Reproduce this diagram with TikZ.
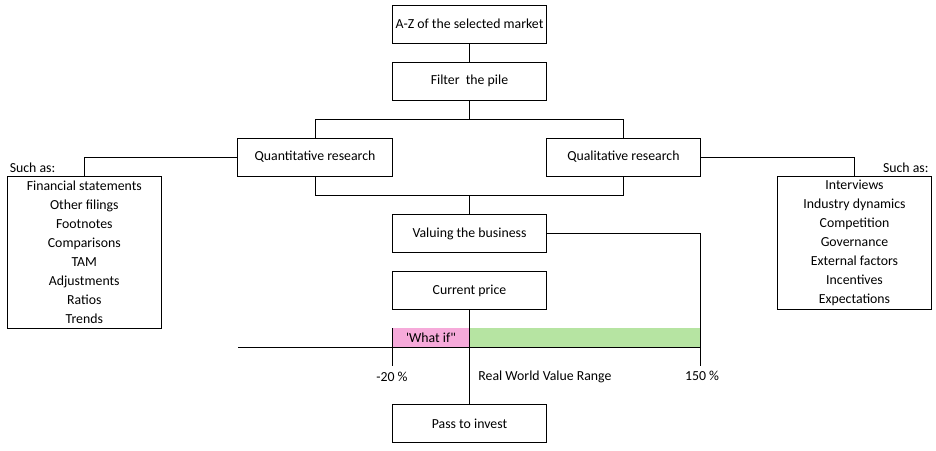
\documentclass[tikz,border=0pt]{standalone}
\usepackage{fontspec}
\newfontfamily\dfont{Carlito}
\definecolor{wipink}{RGB}{246,170,218}
\definecolor{rwgreen}{RGB}{182,228,162}
\begin{document}
\begin{tikzpicture}[x=1pt,y=-1pt,line width=0.9pt,
  every node/.style={font=\dfont\fontsize{13.8}{19}\selectfont, inner sep=0pt},
  box/.style={draw, minimum width=154.5pt, minimum height=38pt},
  listbox/.style={draw, align=center, minimum width=154pt}]
\useasboundingbox (0,0) rectangle (936,450);
% main boxes
\node[box] (az) at (469.5,24) {A-Z of the selected market};
\node[box] (filter) at (469.5,81) {Filter\ \ the pile};
\node[box] (quant) at (315,157) {Quantitative research};
\node[box] (qual) at (623.4,157) {Qualitative research};
\node[box] (value) at (469.5,233.5) {Valuing the business};
\node[box] (price) at (469.5,290.5) {Current price};
\node[box] (pass) at (469.5,423.3) {Pass to invest};
% lists
\node[listbox, minimum height=152.3pt] (llist) at (84.3,252.2) {Financial statements\\Other filings\\Footnotes\\Comparisons\\TAM\\Adjustments\\Ratios\\Trends};
\node[listbox, minimum height=133pt] (rlist) at (854.5,242.5) {Interviews\\Industry dynamics\\Competition\\Governance\\External factors\\Incentives\\Expectations};
\node[anchor=west] (lsuch) at (9.3,168) {Such as:};
\node[anchor=east] (rsuch) at (929,168) {Such as:};
% connectors
\draw (az.south) -- (filter.north);
\draw (filter.south) -- ++(0,19) coordinate (split) -| (quant.north);
\draw (split) -| (qual.north);
\draw (quant.south) -- ++(0,19) -| (value.north);
\draw (qual.south) -- ++(0,19) -| (value.north);
\draw (quant.west) -| (llist.north);
\draw (qual.east) -| (rlist.north);
% value range bar
\coordinate (axL) at (238,347.3);
\coordinate (m20top) at (392.3,328.3);
\coordinate (m20bot) at (392.3,366);
\coordinate (midtop) at (469.5,328.3);
\coordinate (p150bot) at (700.7,366);
\coordinate (p150ax) at (700.7,347.3);
\fill[wipink] (m20top) rectangle (469.5,347.3);
\fill[rwgreen] (midtop) rectangle (p150ax);
\draw (axL) -- (p150ax);
\draw (m20top) -- (m20bot);
\draw (value.east) -| (p150bot);
\draw (price.south) -- (pass.north);
\node (whatif) at (431,338) {'What if"};
\node (m20) at (392,377) {-20 \%};
\node[anchor=west] (rwvr) at (478,377) {Real World Value Range};
\node (p150) at (702,376) {150 \%};
\end{tikzpicture}
\end{document}
